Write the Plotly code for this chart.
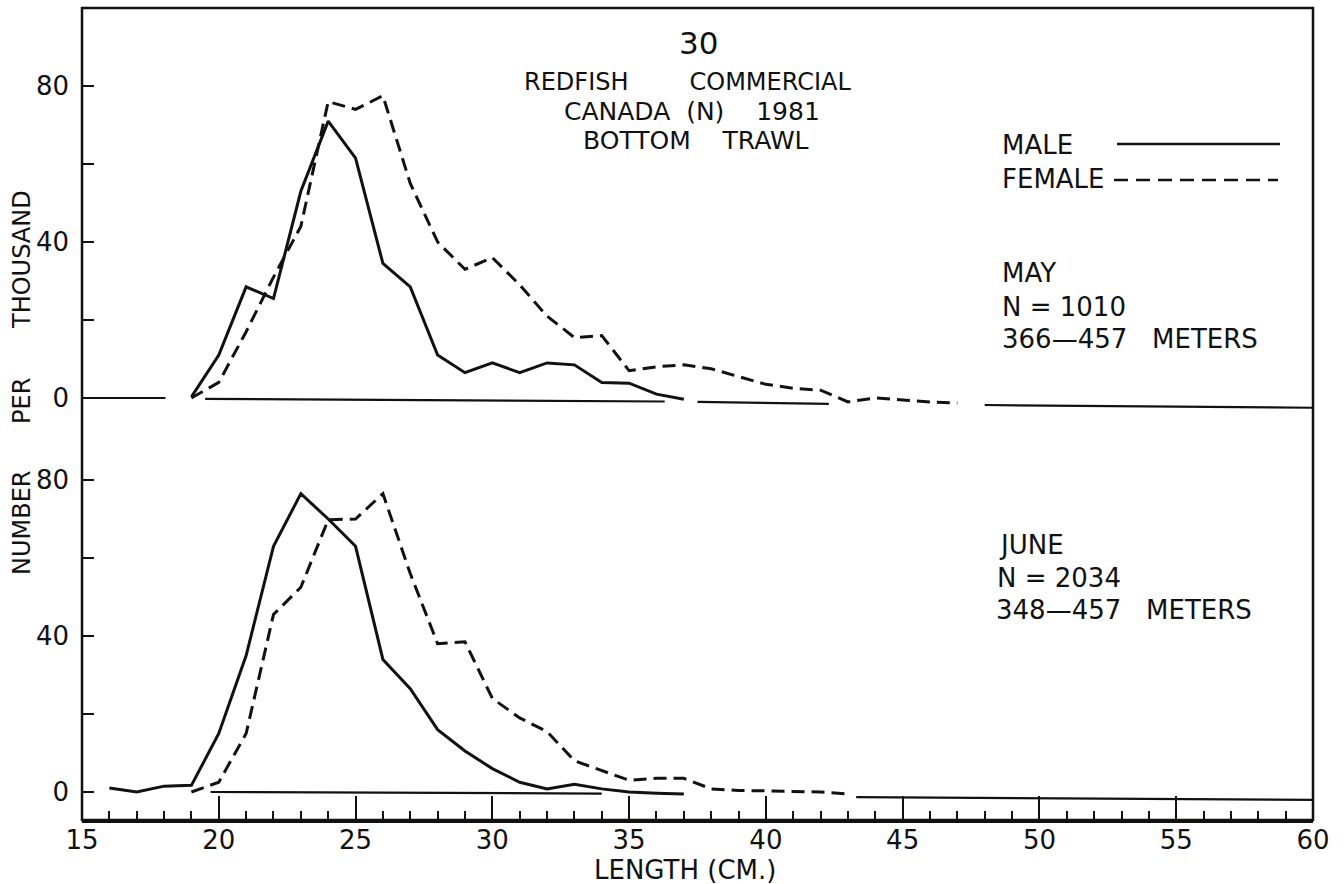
import plotly.graph_objects as go

# ---------------- data ----------------
# MAY panel (top)
may_len_male = [19, 20, 21, 22, 23, 24, 25, 26, 27, 28, 29, 30, 31, 32, 33, 34, 35, 36, 37]
may_male = [0.3, 11, 28.5, 25.5, 53, 71, 61.5, 34.5, 28.5, 11, 6.5, 9, 6.5, 9, 8.5, 4, 3.8, 1, -0.3]
may_len_female = [19, 20, 21, 22, 23, 24, 25, 26, 27, 28, 29, 30, 31, 32, 33, 34, 35, 36, 37,
                  38, 39, 40, 41, 42, 43, 44, 45, 46, 47]
may_female = [0, 4, 17, 31, 44, 76, 74, 77.5, 55, 40, 33, 36, 29, 21, 15.5, 16, 7, 8, 8.5,
              7.5, 5.5, 3.5, 2.5, 2, -1, 0, -0.5, -1, -1.3]

# JUNE panel (bottom)
june_len_male = [16, 17, 18, 19, 20, 21, 22, 23, 24, 25, 26, 27, 28, 29, 30, 31, 32, 33, 34, 35, 36, 37]
june_male = [1, 0, 1.5, 1.7, 15, 35, 63, 76.5, 70, 63, 34, 26.5, 16, 10.5, 6, 2.5, 0.8, 2, 0.8, 0, -0.3, -0.5]
june_len_female = [19, 20, 21, 22, 23, 24, 25, 26, 27, 28, 29, 30, 31, 32, 33, 34, 35, 36, 37,
                   38, 39, 40, 41, 42, 43]
june_female = [0, 2.5, 15, 45.5, 52.5, 69.8, 70, 76.5, 56, 38, 38.5, 24, 19, 15.5, 8, 5.5, 3, 3.5, 3.5,
               0.8, 0.4, 0.3, 0.2, 0, -0.5]

# hand-drawn zero baselines (segments, None = gap)
may_base_x = [15, 18.05, None, 19.5, 36.3, None, 37.5, 42.3, None, 48, 60]
may_base_y = [0, 0, None, -0.2, -0.9, None, -1.0, -1.5, None, -1.8, -2.5]
june_base_x = [19.7, 34, None, 43.3, 60]
june_base_y = [0, -0.4, None, -1.3, -2.0]

x_ticks = [15, 20, 25, 30, 35, 40, 45, 50, 55, 60]
y_ticks = [0, 20, 40, 60, 80]
y_ticktext = ["0", "", "40", "", "80"]

# ---------------- layout helpers ----------------
W, H = 1344, 884
L, R, T, B = 82, 1313, 8, 820
FONT = "DejaVu Sans"
BLACK = "#111111"
PXU = 3.9  # pixels per unit on the y axes


def paper(xp, yp):
    return (xp - L) / (R - L), (B - yp) / (B - T)


SPLIT_PX = 420
split = (B - SPLIT_PX) / (B - T)

fig = go.Figure()

line_solid = dict(color=BLACK, width=3)
line_dash = dict(color=BLACK, width=3, dash="13px,7px")
line_base = dict(color=BLACK, width=2.2)

fig.add_trace(go.Scatter(x=may_base_x, y=may_base_y, mode="lines", line=line_base,
                         yaxis="y2", showlegend=False, hoverinfo="skip"))
fig.add_trace(go.Scatter(x=june_base_x, y=june_base_y, mode="lines", line=line_base,
                         yaxis="y", showlegend=False, hoverinfo="skip"))
fig.add_trace(go.Scatter(x=may_len_male, y=may_male, mode="lines", line=line_solid,
                         yaxis="y2", name="MALE", showlegend=False))
fig.add_trace(go.Scatter(x=may_len_female, y=may_female, mode="lines", line=line_dash,
                         yaxis="y2", name="FEMALE", showlegend=False))
fig.add_trace(go.Scatter(x=june_len_male, y=june_male, mode="lines", line=line_solid,
                         yaxis="y", name="MALE", showlegend=False))
fig.add_trace(go.Scatter(x=june_len_female, y=june_female, mode="lines", line=line_dash,
                         yaxis="y", name="FEMALE", showlegend=False))

yax_common = dict(
    tickmode="array", tickvals=y_ticks, ticktext=y_ticktext,
    ticks="inside", ticklen=12, tickwidth=2, tickcolor=BLACK,
    showgrid=False, zeroline=False, showline=False,
    tickfont=dict(family=FONT, size=26, color=BLACK),
    ticklabelstandoff=12, anchor="x",
)

fig.update_layout(
    width=W, height=H,
    margin=dict(l=L, r=W - R, t=T, b=H - B, pad=0),
    paper_bgcolor="white", plot_bgcolor="white",
    showlegend=False,
    xaxis=dict(
        range=[15, 60], tickmode="array", tickvals=x_ticks,
        ticks="inside", ticklen=24, tickwidth=2, tickcolor=BLACK,
        minor=dict(tickmode="linear", tick0=15, dtick=1, ticks="inside", ticklen=9,
                   tickwidth=2, tickcolor=BLACK, showgrid=False),
        showgrid=False, zeroline=False, showline=True, linewidth=2.5, linecolor=BLACK,
        tickfont=dict(family=FONT, size=26, color=BLACK),
        ticklabelstandoff=-5, anchor="y",
    ),
    yaxis=dict(domain=[0, split], range=[-(B - 792) / PXU, (792 - SPLIT_PX) / PXU], **yax_common),
    yaxis2=dict(domain=[split, 1], range=[100 - (SPLIT_PX - T) / PXU, 100], **yax_common),
)

# frame
fig.add_shape(type="rect", xref="paper", yref="paper", x0=0, x1=1, y0=0, y1=1,
              line=dict(color=BLACK, width=2.5))

# legend lines
lx0, ly = paper(1117, 144)
lx1, _ = paper(1280, 144)
fig.add_shape(type="line", xref="paper", yref="paper", x0=lx0, x1=lx1, y0=ly, y1=ly,
              line=dict(color=BLACK, width=2.5))
dx0, dy = paper(1114, 180)
dx1, _ = paper(1278, 180)
fig.add_shape(type="line", xref="paper", yref="paper", x0=dx0, x1=dx1, y0=dy, y1=dy,
              line=dict(color=BLACK, width=2.5, dash="14px,8px"))

NB = "\u00a0"


def text(s, xp, yp, size=26, anchor="center", angle=0):
    x, y = paper(xp, yp)
    fig.add_annotation(text=s, x=x, y=y, xref="paper", yref="paper", showarrow=False,
                       xanchor=anchor, yanchor="middle", textangle=angle,
                       font=dict(family=FONT, size=size, color=BLACK))


text("30", 698, 43, size=31)
text("REDFISH" + NB * 8 + "COMMERCIAL", 687, 82, size=24)
text("CANADA" + NB * 2 + "(N)" + NB * 4 + "1981", 692, 111, size=25)
text("BOTTOM" + NB * 4 + "TRAWL", 696, 140, size=25)

text("MALE", 1000, 145, anchor="left")
text("FEMALE", 1000, 179, anchor="left")
text("MAY", 1000, 273, anchor="left")
text("N = 1010", 1000, 307, anchor="left")
text("366\u2014457" + NB * 3 + "METERS", 1000, 339, anchor="left")
text("JUNE", 997, 545, anchor="left")
text("N = 2034", 995, 578, anchor="left")
text("348\u2014457" + NB * 3 + "METERS", 994, 610, anchor="left")

text("LENGTH (CM.)", 685, 870, size=26)

text("NUMBER", 22, 523, size=24, angle=-90)
text("PER", 22, 401, size=24, angle=-90)
text("THOUSAND", 22, 260, size=24, angle=-90)

fig.write_html("out.html")
